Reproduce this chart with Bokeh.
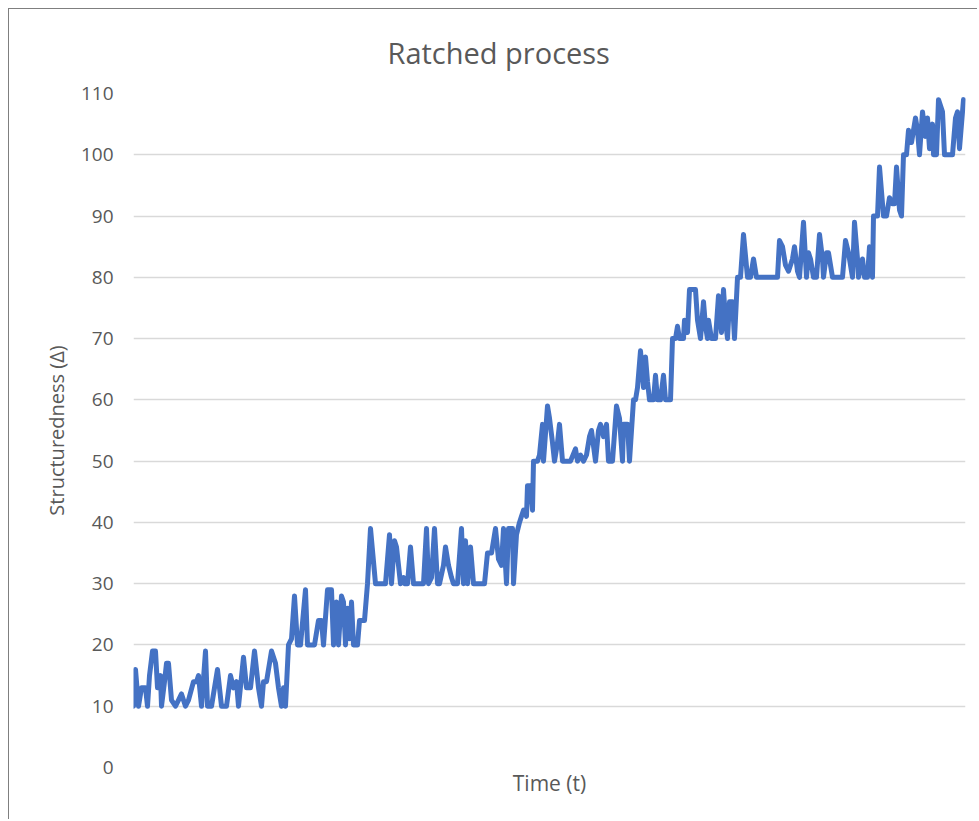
from bokeh.plotting import figure
from bokeh.models import Range1d, FixedTicker
from bokeh.embed import file_html
from bokeh.resources import INLINE

# ---- data (time in arbitrary units, structuredness values)
time_seg1 = [0, 2, 5, 8, 12, 14, 16, 19, 22, 24, 27, 28, 31, 33, 35, 38, 42, 45, 48, 52,
             55, 60, 63, 65, 68, 72, 74, 78, 84, 88, 93, 97, 100, 103, 105, 110, 113, 117, 121, 125,
             128, 130, 133, 138, 142, 145, 148, 150, 152, 155, 158]
vals_seg1 = [10, 16, 10, 13, 13, 10, 15, 19, 19, 13, 15, 10, 14, 17, 17, 11, 10, 11, 12, 10,
             11, 14, 14, 15, 10, 19, 10, 10, 16, 10, 10, 15, 13, 14, 10, 18, 13, 13, 19, 13,
             10, 14, 14, 19, 17, 13, 10, 13, 10, 20, 21]

time_seg2 = [161, 164, 167, 172, 174, 177, 181, 185, 188, 190, 194, 198, 200, 203, 205, 208, 210, 212, 214, 216,
             218, 220, 224, 226, 229, 231, 234, 237, 242, 247, 252, 256, 258, 261, 263, 265, 267, 270, 271, 274,
             277, 280, 284, 290, 293, 295, 298, 301, 304, 306, 310, 312, 315, 318, 320, 324, 328, 330, 332, 334,
             337, 340, 344, 351, 354, 358, 362, 365, 368, 370, 373, 375, 379, 380, 383, 386, 388, 390, 393, 394,
             397, 399, 400, 404, 406, 409, 410, 414, 416, 419, 421, 424, 426, 429, 434, 437, 442, 444, 447, 450,
             453, 456]
vals_seg2 = [28, 20, 20, 29, 20, 20, 20, 24, 24, 20, 29, 29, 20, 27, 20, 28, 27, 20, 26, 21,
             27, 20, 20, 24, 24, 24, 30, 39, 30, 30, 30, 38, 30, 37, 36, 33, 30, 31, 30, 30,
             36, 30, 30, 30, 39, 30, 31, 39, 30, 30, 33, 36, 33, 31, 30, 30, 39, 30, 37, 30,
             36, 30, 30, 30, 35, 35, 39, 34, 33, 39, 30, 39, 39, 30, 38, 40, 41, 42, 41, 46,
             46, 42, 50, 50, 51, 56, 50, 59, 57, 53, 50, 53, 56, 50, 50, 50, 52, 50, 51, 50,
             51, 54]

time_seg3 = [458, 462, 465, 467, 470, 473, 475, 479, 483, 486, 489, 490, 494, 496, 500, 502, 504, 507, 510, 512,
             514, 516, 520, 522, 524, 527, 530, 532, 535, 537, 539, 542, 544, 546, 550, 551, 554, 556, 562, 564,
             567, 570, 572, 574, 575, 578, 582, 585, 588, 590, 592, 594, 596, 599, 601, 604]
vals_seg3 = [55, 50, 55, 56, 54, 56, 50, 50, 59, 57, 50, 56, 56, 50, 60, 60, 62, 68, 62, 67,
             63, 60, 60, 64, 60, 60, 64, 60, 60, 60, 70, 70, 72, 70, 70, 73, 71, 78, 78, 73,
             70, 76, 72, 70, 73, 70, 70, 77, 71, 78, 73, 70, 76, 76, 70, 80]

time_seg4 = [607, 610, 614, 617, 620, 623, 627, 637, 644, 646, 649, 652, 655, 659, 661, 664, 666, 670, 673, 675,
             677, 680, 683, 686, 689, 690, 693, 695, 699, 704, 709, 712, 715, 719, 721, 724, 725, 729, 731, 734,
             736, 739, 740, 744]
vals_seg4 = [80, 87, 80, 80, 83, 80, 80, 80, 80, 86, 85, 82, 81, 83, 85, 81, 80, 89, 80, 84,
             83, 80, 80, 87, 83, 80, 84, 84, 80, 80, 80, 86, 84, 80, 89, 83, 80, 83, 80, 80,
             85, 80, 90, 90]

time_seg5 = [746, 750, 753, 756, 759, 761, 763, 766, 768, 770, 773, 775, 778, 780, 782, 784, 786, 789, 792, 794,
             796, 799, 800, 803, 805, 809, 811, 815, 819, 822, 824, 826, 830]
vals_seg5 = [98, 90, 90, 93, 92, 92, 98, 91, 90, 100, 100, 104, 102, 104, 106, 104, 100, 107, 103, 106,
             101, 105, 100, 100, 109, 107, 100, 100, 100, 106, 107, 101, 109]

y_ticks = [0, 10, 20, 30, 40, 50, 60, 70, 80, 90, 100, 110]

time = time_seg1 + time_seg2 + time_seg3 + time_seg4 + time_seg5
structuredness = vals_seg1 + vals_seg2 + vals_seg3 + vals_seg4 + vals_seg5

FONT = "Open Sans"
GREY = "#595959"

p = figure(width=969, height=811, output_backend="svg", toolbar_location=None,
           x_range=Range1d(0, 832), y_range=Range1d(0, 110),
           min_border_left=124, min_border_top=84, min_border_bottom=53, min_border_right=13,
           title="Ratched process")
p.margin = (8, 0, 0, 8)
p.styles = {"border-left": "1px solid #7f7f7f", "border-top": "1px solid #7f7f7f"}

p.title.align = "left"
p.title.offset = 254
p.title.standoff = 40
p.title.vertical_align = "top"
p.title.text_font = FONT
p.title.text_font_size = "29px"
p.title.text_font_style = "normal"
p.title.text_color = GREY

p.line(time, structuredness, line_color="#4472C4", line_width=5, line_join="round", line_cap="round")

p.outline_line_color = None
p.background_fill_color = "white"
p.border_fill_color = "white"

p.xgrid.grid_line_color = None
p.ygrid.grid_line_color = "#d9d9d9"
p.ygrid.grid_line_width = 1.3
p.yaxis.ticker = FixedTicker(ticks=y_ticks)
p.ygrid.ticker = FixedTicker(ticks=y_ticks)

p.yaxis.axis_line_color = None
p.yaxis.major_tick_line_color = None
p.yaxis.minor_tick_line_color = None
p.yaxis.major_tick_out = 0
p.yaxis.major_label_standoff = 20
p.yaxis.major_label_text_font = FONT
p.yaxis.major_label_text_font_size = "19px"
p.yaxis.major_label_text_color = GREY
p.yaxis.axis_label = "Structuredness (Δ)"
p.yaxis.axis_label_text_font = FONT
p.yaxis.axis_label_text_font_size = "20px"
p.yaxis.axis_label_text_font_style = "normal"
p.yaxis.axis_label_text_color = GREY
p.yaxis.axis_label_standoff = 8

p.xaxis.ticker = FixedTicker(ticks=[])
p.xaxis.axis_line_color = None
p.xaxis.major_tick_line_color = None
p.xaxis.minor_tick_line_color = None
p.xaxis.major_tick_out = 0
p.xaxis.major_label_standoff = 0
p.xaxis.axis_label = "Time (t)"
p.xaxis.axis_label_text_font = FONT
p.xaxis.axis_label_text_font_size = "21px"
p.xaxis.axis_label_text_font_style = "normal"
p.xaxis.axis_label_text_color = GREY
p.xaxis.axis_label_standoff = 1

open("out.html", "w").write(file_html(p, INLINE))
